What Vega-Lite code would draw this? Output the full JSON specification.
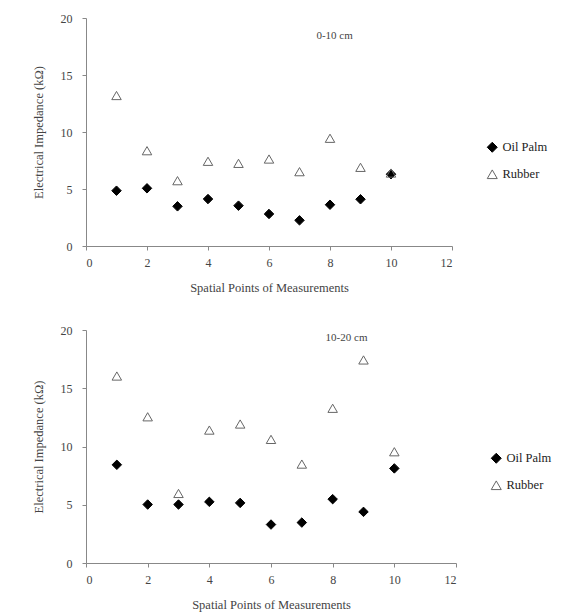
{
  "$schema": "https://vega.github.io/schema/vega-lite/v6.json",
  "background": "white",
  "padding": {"left": 32, "top": 12, "right": 5, "bottom": 5},
  "spacing": 30,
  "config": {
    "font": "Liberation Serif",
    "view": {"stroke": null},
    "axis": {
      "grid": false,
      "domainColor": "#888",
      "tickColor": "#888",
      "tickSize": 4,
      "labelFont": "Liberation Serif",
      "labelFontSize": 12,
      "labelColor": "#444",
      "titleFont": "Liberation Serif",
      "titleFontSize": 12.5,
      "titleFontWeight": "normal",
      "titleColor": "#444"
    },
    "axisX": {"labelPadding": 7, "titlePadding": 13},
    "axisY": {"labelPadding": 10, "titlePadding": 15},
    "legend": {
      "labelFont": "Liberation Serif",
      "labelFontSize": 12.5,
      "labelColor": "#222",
      "rowPadding": 12,
      "symbolStrokeWidth": 1
    }
  },
  "datasets": {
    "top": [
      {"point": 1, "tree": "Oil Palm", "value": 4.85},
      {"point": 2, "tree": "Oil Palm", "value": 5.06},
      {"point": 3, "tree": "Oil Palm", "value": 3.48},
      {"point": 4, "tree": "Oil Palm", "value": 4.12},
      {"point": 5, "tree": "Oil Palm", "value": 3.54},
      {"point": 6, "tree": "Oil Palm", "value": 2.81},
      {"point": 7, "tree": "Oil Palm", "value": 2.25},
      {"point": 8, "tree": "Oil Palm", "value": 3.62},
      {"point": 9, "tree": "Oil Palm", "value": 4.1},
      {"point": 10, "tree": "Oil Palm", "value": 6.3},
      {"point": 1, "tree": "Rubber", "value": 13.2},
      {"point": 2, "tree": "Rubber", "value": 8.36},
      {"point": 3, "tree": "Rubber", "value": 5.73},
      {"point": 4, "tree": "Rubber", "value": 7.43},
      {"point": 5, "tree": "Rubber", "value": 7.25},
      {"point": 6, "tree": "Rubber", "value": 7.63},
      {"point": 7, "tree": "Rubber", "value": 6.52},
      {"point": 8, "tree": "Rubber", "value": 9.45},
      {"point": 9, "tree": "Rubber", "value": 6.9},
      {"point": 10, "tree": "Rubber", "value": 6.4}
    ],
    "bottom": [
      {"point": 1, "tree": "Oil Palm", "value": 8.43},
      {"point": 2, "tree": "Oil Palm", "value": 5.02},
      {"point": 3, "tree": "Oil Palm", "value": 5.02},
      {"point": 4, "tree": "Oil Palm", "value": 5.25},
      {"point": 5, "tree": "Oil Palm", "value": 5.16},
      {"point": 6, "tree": "Oil Palm", "value": 3.3},
      {"point": 7, "tree": "Oil Palm", "value": 3.47},
      {"point": 8, "tree": "Oil Palm", "value": 5.48},
      {"point": 9, "tree": "Oil Palm", "value": 4.39},
      {"point": 10, "tree": "Oil Palm", "value": 8.12},
      {"point": 1, "tree": "Rubber", "value": 16.05},
      {"point": 2, "tree": "Rubber", "value": 12.55},
      {"point": 3, "tree": "Rubber", "value": 5.97},
      {"point": 4, "tree": "Rubber", "value": 11.41},
      {"point": 5, "tree": "Rubber", "value": 11.93},
      {"point": 6, "tree": "Rubber", "value": 10.61},
      {"point": 7, "tree": "Rubber", "value": 8.49},
      {"point": 8, "tree": "Rubber", "value": 13.28},
      {"point": 9, "tree": "Rubber", "value": 17.43},
      {"point": 10, "tree": "Rubber", "value": 9.55}
    ],
    "one": [{}]
  },
  "resolve": {
    "scale": {"shape": "independent", "fill": "independent", "stroke": "independent"},
    "legend": {"shape": "independent", "fill": "independent", "stroke": "independent"}
  },
  "vconcat": [
    {
      "width": 366,
      "height": 228,
      "layer": [
        {
          "data": {"name": "top"},
          "mark": {"type": "point", "filled": false, "size": 90, "strokeWidth": 1, "opacity": 1},
          "encoding": {
            "x": {"field": "point", "type": "quantitative", "title": "Spatial Points of Measurements",
                  "scale": {"domain": [0, 12], "nice": false}, "axis": {"values": [0, 2, 4, 6, 8, 10, 12]}},
            "y": {"field": "value", "type": "quantitative", "title": "Electrical Impedance (kΩ)",
                  "scale": {"domain": [0, 20], "nice": false}, "axis": {"values": [0, 5, 10, 15, 20]}},
            "shape": {"field": "tree", "type": "nominal", "scale": {"domain": ["Oil Palm", "Rubber"], "range": ["diamond", "triangle-up"]},
                      "legend": {"title": null, "orient": "none", "legendX": 400, "legendY": 123}},
            "fill": {"field": "tree", "type": "nominal", "scale": {"domain": ["Oil Palm", "Rubber"], "range": ["#000000", "transparent"]},
                     "legend": {"title": null, "orient": "none", "legendX": 400, "legendY": 123}},
            "stroke": {"field": "tree", "type": "nominal", "scale": {"domain": ["Oil Palm", "Rubber"], "range": ["#000000", "#666666"]},
                       "legend": {"title": null, "orient": "none", "legendX": 400, "legendY": 123}}
          }
        },
        {
          "data": {"name": "one"},
          "mark": {"type": "text", "text": "0-10 cm", "font": "Liberation Serif", "fontSize": 11, "color": "#444"},
          "encoding": {"x": {"datum": 8.15}, "y": {"datum": 18.4}}
        }
      ]
    },
    {
      "width": 370,
      "height": 233,
      "layer": [
        {
          "data": {"name": "bottom"},
          "mark": {"type": "point", "filled": false, "size": 90, "strokeWidth": 1, "opacity": 1},
          "encoding": {
            "x": {"field": "point", "type": "quantitative", "title": "Spatial Points of Measurements",
                  "scale": {"domain": [0, 12], "nice": false}, "axis": {"values": [0, 2, 4, 6, 8, 10, 12]}},
            "y": {"field": "value", "type": "quantitative", "title": "Electrical Impedance (kΩ)",
                  "scale": {"domain": [0, 20], "nice": false}, "axis": {"values": [0, 5, 10, 15, 20]}},
            "shape": {"field": "tree", "type": "nominal", "scale": {"domain": ["Oil Palm", "Rubber"], "range": ["diamond", "triangle-up"]},
                      "legend": {"title": null, "orient": "none", "legendX": 404, "legendY": 122}},
            "fill": {"field": "tree", "type": "nominal", "scale": {"domain": ["Oil Palm", "Rubber"], "range": ["#000000", "transparent"]},
                     "legend": {"title": null, "orient": "none", "legendX": 404, "legendY": 122}},
            "stroke": {"field": "tree", "type": "nominal", "scale": {"domain": ["Oil Palm", "Rubber"], "range": ["#000000", "#666666"]},
                       "legend": {"title": null, "orient": "none", "legendX": 404, "legendY": 122}}
          }
        },
        {
          "data": {"name": "one"},
          "mark": {"type": "text", "text": "10-20 cm", "font": "Liberation Serif", "fontSize": 11, "color": "#444"},
          "encoding": {"x": {"datum": 8.45}, "y": {"datum": 19.3}}
        }
      ]
    }
  ]
}
